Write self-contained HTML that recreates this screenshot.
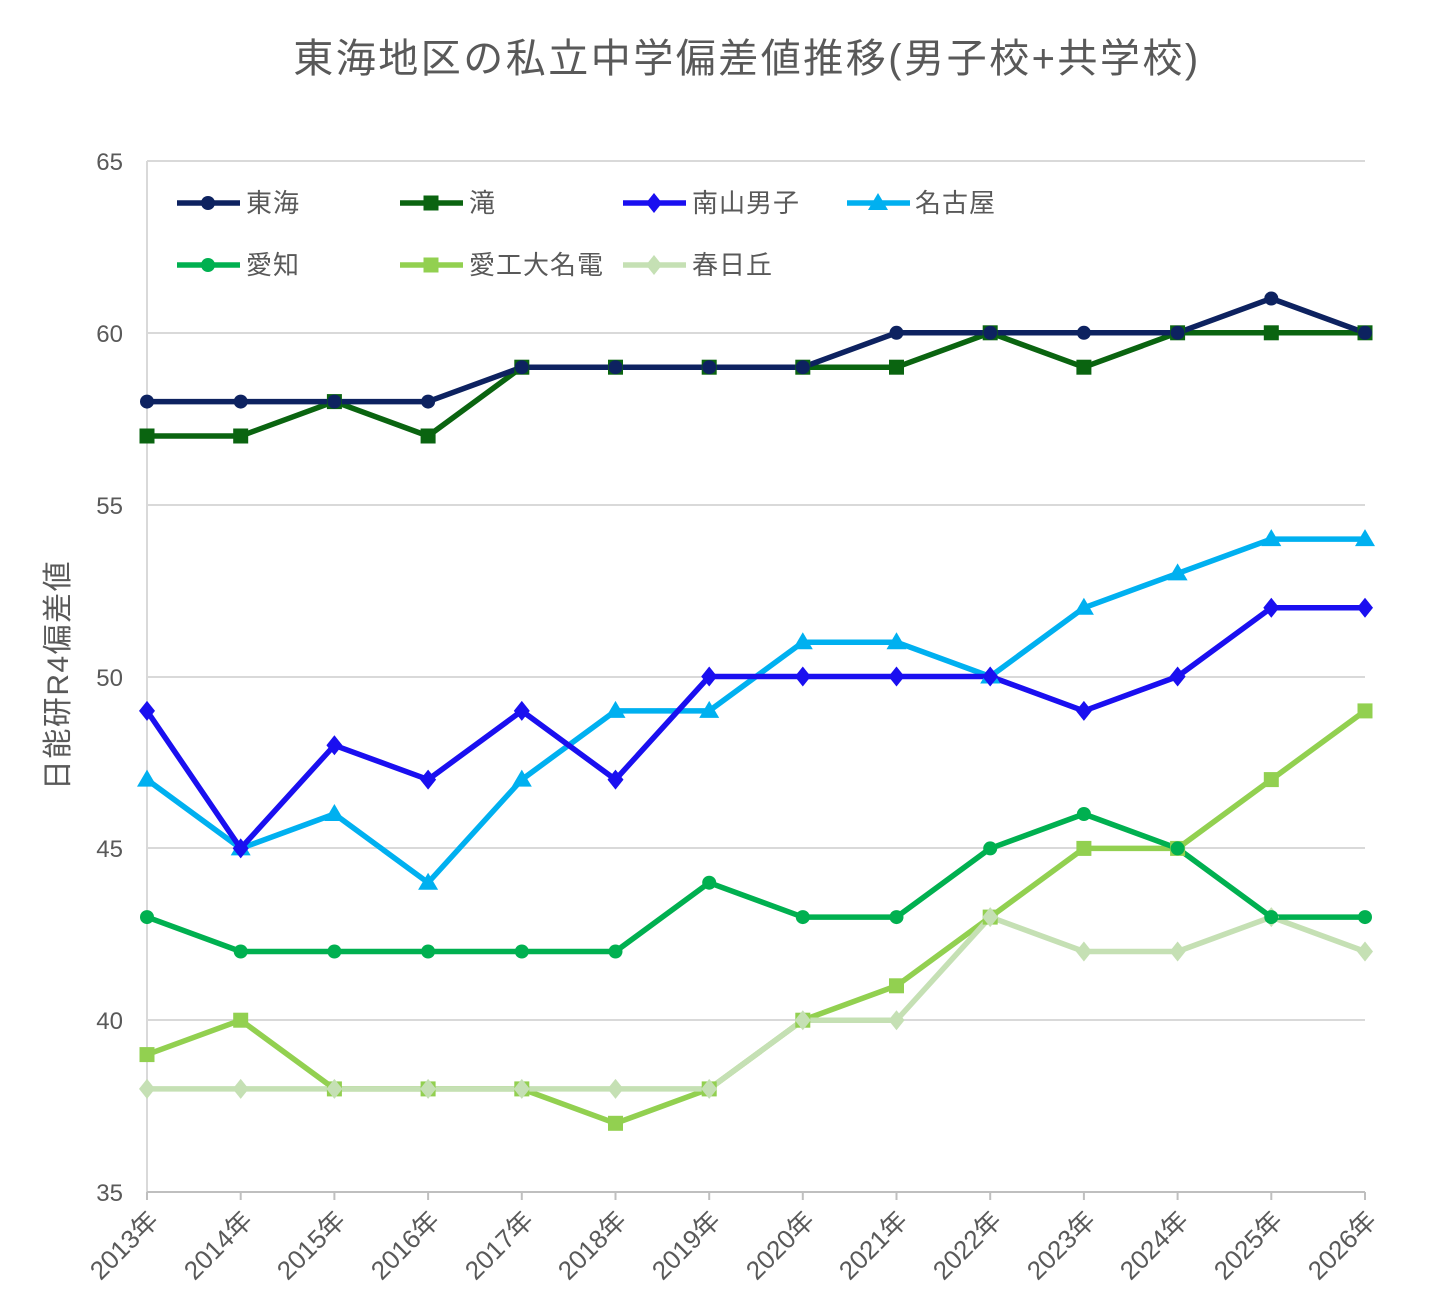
<!DOCTYPE html>
<html><head><meta charset="utf-8"><style>
html,body{margin:0;padding:0;background:#fff;}
svg{display:block;font-family:"Liberation Sans","Noto Sans CJK JP",sans-serif;}
</style></head><body>
<svg width="1442" height="1316" viewBox="0 0 1442 1316" xmlns="http://www.w3.org/2000/svg">
<rect width="1442" height="1316" fill="#fff"/>
<text x="747" y="72" text-anchor="middle" font-size="40" letter-spacing="2.5" fill="#595959">東海地区の私立中学偏差値推移(男子校+共学校)</text>
<g stroke="#d9d9d9" stroke-width="2">
<line x1="147" y1="161" x2="1365" y2="161"/><line x1="147" y1="333" x2="1365" y2="333"/>
<line x1="147" y1="505" x2="1365" y2="505"/><line x1="147" y1="677" x2="1365" y2="677"/>
<line x1="147" y1="848" x2="1365" y2="848"/><line x1="147" y1="1020" x2="1365" y2="1020"/>
<line x1="147" y1="161" x2="147" y2="1192"/>
</g>
<line x1="147" y1="1192" x2="1365" y2="1192" stroke="#bfbfbf" stroke-width="2"/>
<g stroke="#bfbfbf" stroke-width="2">
<line x1="147" y1="1192" x2="147" y2="1200"/><line x1="240.7" y1="1192" x2="240.7" y2="1200"/><line x1="334.4" y1="1192" x2="334.4" y2="1200"/><line x1="428.1" y1="1192" x2="428.1" y2="1200"/><line x1="521.8" y1="1192" x2="521.8" y2="1200"/><line x1="615.5" y1="1192" x2="615.5" y2="1200"/><line x1="709.2" y1="1192" x2="709.2" y2="1200"/><line x1="802.8" y1="1192" x2="802.8" y2="1200"/><line x1="896.5" y1="1192" x2="896.5" y2="1200"/><line x1="990.2" y1="1192" x2="990.2" y2="1200"/><line x1="1083.9" y1="1192" x2="1083.9" y2="1200"/><line x1="1177.6" y1="1192" x2="1177.6" y2="1200"/><line x1="1271.3" y1="1192" x2="1271.3" y2="1200"/><line x1="1365" y1="1192" x2="1365" y2="1200"/>
</g>
<g font-size="24" fill="#595959" text-anchor="end">
<text x="123" y="170">65</text><text x="123" y="342">60</text><text x="123" y="514">55</text>
<text x="123" y="686">50</text><text x="123" y="857">45</text><text x="123" y="1029">40</text><text x="123" y="1201">35</text>
</g>
<text transform="translate(68,675) rotate(-90)" text-anchor="middle" font-size="30" letter-spacing="1.5" fill="#595959">日能研R4偏差値</text>
<g font-size="26" fill="#595959" text-anchor="end">
<text transform="translate(160,1222) rotate(-45)">2013年</text>
<text transform="translate(254,1222) rotate(-45)">2014年</text>
<text transform="translate(347,1222) rotate(-45)">2015年</text>
<text transform="translate(441,1222) rotate(-45)">2016年</text>
<text transform="translate(535,1222) rotate(-45)">2017年</text>
<text transform="translate(628,1222) rotate(-45)">2018年</text>
<text transform="translate(722,1222) rotate(-45)">2019年</text>
<text transform="translate(816,1222) rotate(-45)">2020年</text>
<text transform="translate(909,1222) rotate(-45)">2021年</text>
<text transform="translate(1003,1222) rotate(-45)">2022年</text>
<text transform="translate(1097,1222) rotate(-45)">2023年</text>
<text transform="translate(1190,1222) rotate(-45)">2024年</text>
<text transform="translate(1284,1222) rotate(-45)">2025年</text>
<text transform="translate(1378,1222) rotate(-45)">2026年</text>
</g>
<defs>
<circle id="c" r="7"/>
<rect id="s" x="-7.5" y="-7.5" width="15" height="15"/>
<polygon id="d" points="0,-10 8,0 0,10 -8,0"/>
<polygon id="t" points="0,-10 10,7 -10,7"/>
</defs>
<g fill="none" stroke-width="5.5" stroke-linejoin="round">
<polyline stroke="#92d050" points="147,1054.6 240.7,1020.2 334.4,1088.9 428.1,1088.9 521.8,1088.9 615.5,1123.3 709.2,1088.9 802.8,1020.2 896.5,985.8 990.2,917.1 1083.9,848.4 1177.6,848.4 1271.3,779.6 1365,710.9"/>
<polyline stroke="#c5e0b4" points="147,1088.9 240.7,1088.9 334.4,1088.9 428.1,1088.9 521.8,1088.9 615.5,1088.9 709.2,1088.9 802.8,1020.2 896.5,1020.2 990.2,917.1 1083.9,951.5 1177.6,951.5 1271.3,917.1 1365,951.5"/>
<polyline stroke="#00b050" points="147,917.1 240.7,951.5 334.4,951.5 428.1,951.5 521.8,951.5 615.5,951.5 709.2,882.7 802.8,917.1 896.5,917.1 990.2,848.4 1083.9,814 1177.6,848.4 1271.3,917.1 1365,917.1"/>
<polyline stroke="#00b0f0" points="147,779.6 240.7,848.4 334.4,814 428.1,882.7 521.8,779.6 615.5,710.9 709.2,710.9 802.8,642.2 896.5,642.2 990.2,676.5 1083.9,607.8 1177.6,573.4 1271.3,539.1 1365,539.1"/>
<polyline stroke="#1a0ff0" points="147,710.9 240.7,848.4 334.4,745.3 428.1,779.6 521.8,710.9 615.5,779.6 709.2,676.5 802.8,676.5 896.5,676.5 990.2,676.5 1083.9,710.9 1177.6,676.5 1271.3,607.8 1365,607.8"/>
<polyline stroke="#0a6410" points="147,436 240.7,436 334.4,401.6 428.1,436 521.8,367.2 615.5,367.2 709.2,367.2 802.8,367.2 896.5,367.2 990.2,332.8 1083.9,367.2 1177.6,332.8 1271.3,332.8 1365,332.8"/>
<polyline stroke="#0d2260" points="147,401.6 240.7,401.6 334.4,401.6 428.1,401.6 521.8,367.2 615.5,367.2 709.2,367.2 802.8,367.2 896.5,332.8 990.2,332.8 1083.9,332.8 1177.6,332.8 1271.3,298.5 1365,332.8"/>
</g>
<g fill="#92d050">
<use href="#s" x="147" y="1054.6"/><use href="#s" x="240.7" y="1020.2"/><use href="#s" x="334.4" y="1088.9"/><use href="#s" x="428.1" y="1088.9"/><use href="#s" x="521.8" y="1088.9"/><use href="#s" x="615.5" y="1123.3"/><use href="#s" x="709.2" y="1088.9"/><use href="#s" x="802.8" y="1020.2"/><use href="#s" x="896.5" y="985.8"/><use href="#s" x="990.2" y="917.1"/><use href="#s" x="1083.9" y="848.4"/><use href="#s" x="1177.6" y="848.4"/><use href="#s" x="1271.3" y="779.6"/><use href="#s" x="1365" y="710.9"/>
</g>
<g fill="#c5e0b4">
<use href="#d" x="147" y="1088.9"/><use href="#d" x="240.7" y="1088.9"/><use href="#d" x="334.4" y="1088.9"/><use href="#d" x="428.1" y="1088.9"/><use href="#d" x="521.8" y="1088.9"/><use href="#d" x="615.5" y="1088.9"/><use href="#d" x="709.2" y="1088.9"/><use href="#d" x="802.8" y="1020.2"/><use href="#d" x="896.5" y="1020.2"/><use href="#d" x="990.2" y="917.1"/><use href="#d" x="1083.9" y="951.5"/><use href="#d" x="1177.6" y="951.5"/><use href="#d" x="1271.3" y="917.1"/><use href="#d" x="1365" y="951.5"/>
</g>
<g fill="#00b050">
<use href="#c" x="147" y="917.1"/><use href="#c" x="240.7" y="951.5"/><use href="#c" x="334.4" y="951.5"/><use href="#c" x="428.1" y="951.5"/><use href="#c" x="521.8" y="951.5"/><use href="#c" x="615.5" y="951.5"/><use href="#c" x="709.2" y="882.7"/><use href="#c" x="802.8" y="917.1"/><use href="#c" x="896.5" y="917.1"/><use href="#c" x="990.2" y="848.4"/><use href="#c" x="1083.9" y="814"/><use href="#c" x="1177.6" y="848.4"/><use href="#c" x="1271.3" y="917.1"/><use href="#c" x="1365" y="917.1"/>
</g>
<g fill="#00b0f0">
<use href="#t" x="147" y="779.6"/><use href="#t" x="240.7" y="848.4"/><use href="#t" x="334.4" y="814"/><use href="#t" x="428.1" y="882.7"/><use href="#t" x="521.8" y="779.6"/><use href="#t" x="615.5" y="710.9"/><use href="#t" x="709.2" y="710.9"/><use href="#t" x="802.8" y="642.2"/><use href="#t" x="896.5" y="642.2"/><use href="#t" x="990.2" y="676.5"/><use href="#t" x="1083.9" y="607.8"/><use href="#t" x="1177.6" y="573.4"/><use href="#t" x="1271.3" y="539.1"/><use href="#t" x="1365" y="539.1"/>
</g>
<g fill="#1a0ff0">
<use href="#d" x="147" y="710.9"/><use href="#d" x="240.7" y="848.4"/><use href="#d" x="334.4" y="745.3"/><use href="#d" x="428.1" y="779.6"/><use href="#d" x="521.8" y="710.9"/><use href="#d" x="615.5" y="779.6"/><use href="#d" x="709.2" y="676.5"/><use href="#d" x="802.8" y="676.5"/><use href="#d" x="896.5" y="676.5"/><use href="#d" x="990.2" y="676.5"/><use href="#d" x="1083.9" y="710.9"/><use href="#d" x="1177.6" y="676.5"/><use href="#d" x="1271.3" y="607.8"/><use href="#d" x="1365" y="607.8"/>
</g>
<g fill="#0a6410">
<use href="#s" x="147" y="436"/><use href="#s" x="240.7" y="436"/><use href="#s" x="334.4" y="401.6"/><use href="#s" x="428.1" y="436"/><use href="#s" x="521.8" y="367.2"/><use href="#s" x="615.5" y="367.2"/><use href="#s" x="709.2" y="367.2"/><use href="#s" x="802.8" y="367.2"/><use href="#s" x="896.5" y="367.2"/><use href="#s" x="990.2" y="332.8"/><use href="#s" x="1083.9" y="367.2"/><use href="#s" x="1177.6" y="332.8"/><use href="#s" x="1271.3" y="332.8"/><use href="#s" x="1365" y="332.8"/>
</g>
<g fill="#0d2260">
<use href="#c" x="147" y="401.6"/><use href="#c" x="240.7" y="401.6"/><use href="#c" x="334.4" y="401.6"/><use href="#c" x="428.1" y="401.6"/><use href="#c" x="521.8" y="367.2"/><use href="#c" x="615.5" y="367.2"/><use href="#c" x="709.2" y="367.2"/><use href="#c" x="802.8" y="367.2"/><use href="#c" x="896.5" y="332.8"/><use href="#c" x="990.2" y="332.8"/><use href="#c" x="1083.9" y="332.8"/><use href="#c" x="1177.6" y="332.8"/><use href="#c" x="1271.3" y="298.5"/><use href="#c" x="1365" y="332.8"/>
</g>
<g stroke-width="5.5">
<line x1="177" y1="203" x2="240" y2="203" stroke="#0d2260"/>
<line x1="400" y1="203" x2="463" y2="203" stroke="#0a6410"/>
<line x1="623" y1="203" x2="686" y2="203" stroke="#1a0ff0"/>
<line x1="847" y1="203" x2="910" y2="203" stroke="#00b0f0"/>
<line x1="177" y1="265" x2="240" y2="265" stroke="#00b050"/>
<line x1="400" y1="265" x2="463" y2="265" stroke="#92d050"/>
<line x1="623" y1="265" x2="686" y2="265" stroke="#c5e0b4"/>
</g>
<use href="#c" x="208" y="203" fill="#0d2260"/>
<use href="#s" x="431" y="203" fill="#0a6410"/>
<use href="#d" x="654" y="203" fill="#1a0ff0"/>
<use href="#t" x="878" y="203" fill="#00b0f0"/>
<use href="#c" x="208" y="265" fill="#00b050"/>
<use href="#s" x="431" y="265" fill="#92d050"/>
<use href="#d" x="654" y="265" fill="#c5e0b4"/>
<g font-size="26" letter-spacing="1" fill="#595959">
<text x="246" y="212">東海</text>
<text x="469" y="212">滝</text>
<text x="692" y="212">南山男子</text>
<text x="915" y="212">名古屋</text>
<text x="246" y="274">愛知</text>
<text x="469" y="274">愛工大名電</text>
<text x="692" y="274">春日丘</text>
</g>
</svg>
</body></html>
